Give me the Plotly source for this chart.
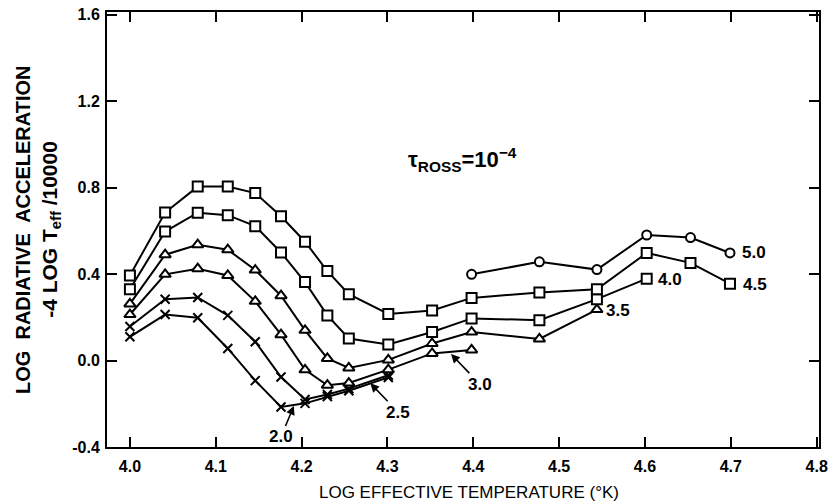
import plotly.graph_objects as go

# ---- data ----
LOGT = [4.0, 4.041, 4.079, 4.114, 4.146, 4.176, 4.204, 4.230, 4.255,
        4.301, 4.352, 4.398, 4.477, 4.544, 4.602, 4.653, 4.699]

x_g50 = [4.398, 4.477, 4.544, 4.602, 4.653, 4.699]
y_g50 = [0.399, 0.457, 0.421, 0.581, 0.569, 0.498]

x_g45 = LOGT
y_g45 = [0.394, 0.685, 0.805, 0.805, 0.775, 0.668, 0.55, 0.414, 0.307,
         0.216, 0.232, 0.29, 0.315, 0.33, 0.498, 0.452, 0.356]

x_g40 = LOGT[:15]
y_g40 = [0.33, 0.597, 0.684, 0.673, 0.622, 0.50, 0.363, 0.209, 0.102,
         0.074, 0.132, 0.195, 0.187, 0.284, 0.379]

x_g35 = LOGT[:14]
y_g35 = [0.262, 0.49, 0.536, 0.513, 0.419, 0.30, 0.14, 0.01, -0.034,
         0.003, 0.079, 0.132, 0.10, 0.236]

x_g30 = LOGT[:12]
y_g30 = [0.213, 0.399, 0.425, 0.394, 0.274, 0.12, -0.043, -0.114, -0.104,
         -0.042, 0.033, 0.049]

x_g25 = LOGT[:10]
y_g25 = [0.158, 0.284, 0.292, 0.209, 0.087, -0.076, -0.18, -0.157, -0.13,
         -0.068]

x_g20 = LOGT[:10]
y_g20 = [0.11, 0.213, 0.198, 0.056, -0.093, -0.215, -0.198, -0.167, -0.14,
         -0.078]

X_TICKS = [4.0, 4.1, 4.2, 4.3, 4.4, 4.5, 4.6, 4.7, 4.8]
X_TICKTEXT = ["4.0", "4.1", "4.2", "4.3", "4.4", "4.5", "4.6", "4.7", "4.8"]
Y_TICKS = [-0.4, 0.0, 0.4, 0.8, 1.2, 1.6]
Y_TICKTEXT = ["-0.4", "0.0", "0.4", "0.8", "1.2", "1.6"]

# label texts and anchor positions
LABELS = ["5.0", "4.5", "4.0", "3.5"]
LABEL_X = [4.7265, 4.7277, 4.629, 4.568]
LABEL_Y = [0.498, 0.352, 0.374, 0.231]

ARROW_LABELS = ["3.0", "2.5", "2.0"]
ARROW_X = [4.374, 4.280, 4.191]
ARROW_Y = [0.03, -0.105, -0.21]
ARROW_AX = [29, 28, -13]
ARROW_AY = [30, 29, 31]

FONT = "Liberation Sans"
BLACK = "black"

fig = go.Figure()

def add(xs, ys, symbol, size):
    open_sym = symbol != "x-thin"
    fig.add_trace(go.Scatter(
        x=xs, y=ys, mode="lines+markers",
        line=dict(color=BLACK, width=2),
        marker=dict(symbol=symbol, size=size,
                    color="white" if open_sym else BLACK,
                    line=dict(color=BLACK, width=2)),
        showlegend=False, hoverinfo="skip"))

add(x_g20, y_g20, "x-thin", 9)
add(x_g25, y_g25, "x-thin", 9)
add(x_g30, y_g30, "triangle-up", 10)
add(x_g35, y_g35, "triangle-up", 10)
add(x_g40, y_g40, "square", 10)
add(x_g45, y_g45, "square", 10)
add(x_g50, y_g50, "circle", 9)

lab_font = dict(family=FONT, size=17, color=BLACK, weight="bold")
for t, x, y in zip(LABELS, LABEL_X, LABEL_Y):
    fig.add_annotation(x=x, y=y, text=t, showarrow=False, xanchor="center",
                       yanchor="middle", font=lab_font)

for t, x, y, ax, ay in zip(ARROW_LABELS, ARROW_X, ARROW_Y, ARROW_AX, ARROW_AY):
    fig.add_annotation(x=x, y=y, text=t, showarrow=True, ax=ax, ay=ay,
                       arrowhead=2, arrowsize=1.1, arrowwidth=1.6, arrowcolor=BLACK,
                       font=lab_font)

fig.add_annotation(x=4.387, y=0.93, text="τ<sub>ROSS</sub>=10<sup>−4</sup>",
                   showarrow=False, xanchor="center", yanchor="middle",
                   font=dict(family=FONT, size=22, color=BLACK, weight="bold"))

# y-axis title: two rotated lines
fig.add_annotation(xref="paper", yref="paper", x=(22 - 107) / 716, y=0.5,
                   text="LOG  RADIATIVE  ACCELERATION", textangle=-90,
                   showarrow=False, xanchor="center", yanchor="middle",
                   font=dict(family=FONT, size=20, color=BLACK, weight="bold"))
fig.add_annotation(xref="paper", yref="paper", x=(50 - 107) / 716, y=0.5,
                   text="-4 LOG T<sub>eff</sub> /10000", textangle=-90,
                   showarrow=False, xanchor="center", yanchor="middle",
                   font=dict(family=FONT, size=21, color=BLACK, weight="bold"))

# x-axis title
fig.add_annotation(xref="paper", yref="paper", x=(471 - 107) / 716,
                   y=(447 - 493) / 441,
                   text="LOG EFFECTIVE TEMPERATURE (°K)", showarrow=False,
                   xanchor="center", yanchor="middle",
                   font=dict(family=FONT, size=17, color=BLACK))

tick_font = dict(family=FONT, size=16, color=BLACK, weight="bold")
fig.update_layout(
    width=834, height=504,
    margin=dict(l=107, r=11, t=6, b=57),
    paper_bgcolor="white", plot_bgcolor="white",
    font=dict(family=FONT, color=BLACK),
    xaxis=dict(range=[3.9733, 4.8027], tickvals=X_TICKS, ticktext=X_TICKTEXT,
               ticks="inside", ticklen=10, tickwidth=1.6, tickcolor=BLACK,
               showline=True, linecolor=BLACK, linewidth=2, mirror="ticks",
               showgrid=False, zeroline=False, tickfont=tick_font,
               ticklabelstandoff=4),
    yaxis=dict(range=[-0.4, 1.613], tickvals=Y_TICKS, ticktext=Y_TICKTEXT,
               ticks="inside", ticklen=10, tickwidth=1.6, tickcolor=BLACK,
               showline=True, linecolor=BLACK, linewidth=2, mirror="ticks",
               showgrid=False, zeroline=False, tickfont=tick_font,
               ticklabelstandoff=2),
)

fig.write_html("out.html", config={"displayModeBar": False},
               post_script="document.body.style.margin='0';document.body.style.overflow='hidden';")
